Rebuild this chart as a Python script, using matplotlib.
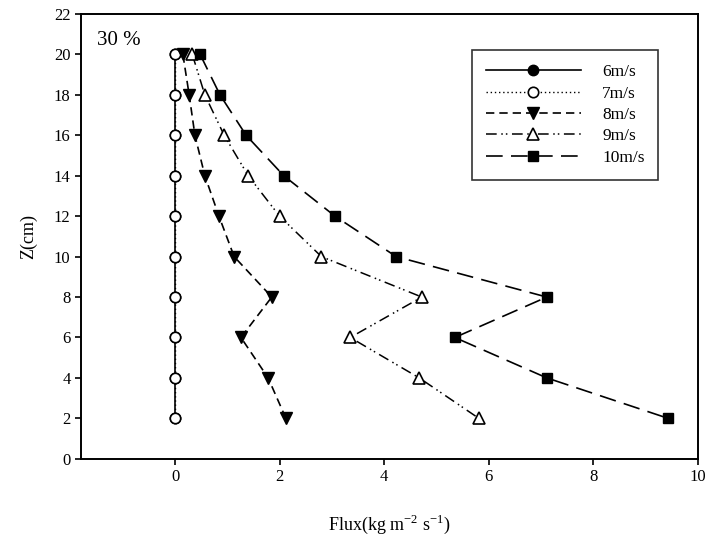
import matplotlib
matplotlib.use('Agg')
import matplotlib.pyplot as plt

plt.rcParams['font.family'] = ['Liberation Serif', 'DejaVu Serif']
plt.rcParams['mathtext.fontset'] = 'custom'
plt.rcParams['mathtext.rm'] = 'Liberation Serif'

z = [20, 18, 16, 14, 12, 10, 8, 6, 4, 2]
flux_6 = [0, 0, 0, 0, 0, 0, 0, 0, 0, 0]
flux_7 = [0, 0, 0, 0, 0, 0, 0, 0, 0, 0]
flux_8 = [0.15, 0.27, 0.38, 0.57, 0.84, 1.13, 1.85, 1.26, 1.78, 2.12]
flux_9 = [0.33, 0.57, 0.94, 1.40, 2.00, 2.80, 4.72, 3.35, 4.67, 5.81]
flux_10 = [0.48, 0.86, 1.36, 2.08, 3.06, 4.23, 7.11, 5.35, 7.11, 9.43]

fig = plt.figure(figsize=(7.1, 5.41), dpi=100)
ax = fig.add_axes([0.114, 0.152, 0.869, 0.822])

ax.plot(flux_6, z, color='black', linestyle='-', lw=1.2, marker='o', ms=7.5,
        mfc='black', mec='black', label='6m/s')
ax.plot(flux_7, z, color='black', linestyle=(0, (1, 2)), lw=1.0, marker='o', ms=7.5,
        mfc='white', mec='black', mew=1.2, label='7m/s')
ax.plot(flux_8, z, color='black', linestyle=(0, (5, 3)), lw=1.2, marker='v', ms=8,
        mfc='black', mec='black', label='8m/s')
ax.plot(flux_9, z, color='black', linestyle=(0, (7, 3, 1, 2, 1, 3)), lw=1.1, marker='^', ms=8,
        mfc='white', mec='black', mew=1.2, label='9m/s')
ax.plot(flux_10, z, color='black', linestyle=(0, (10, 5)), lw=1.2, marker='s', ms=7.5,
        mfc='black', mec='black', label='10m/s')

ax.set_xlim(-1.8, 10)
ax.set_ylim(0, 22)
ax.set_xticks([0, 2, 4, 6, 8, 10])
ax.set_yticks(range(0, 23, 2))
ax.tick_params(direction='out', labelsize=12, length=4, width=1.2)
for s in ax.spines.values():
    s.set_linewidth(1.4)

ax.set_xlabel('Flux(kg m$^{-2}$ s$^{-1}$)', fontsize=13, labelpad=20)
ax.set_ylabel('Z(cm)', fontsize=13, labelpad=12)

ax.text(-1.5, 20.7, '30 %', fontsize=15, ha='left', va='center')

leg = ax.legend(loc='upper right', bbox_to_anchor=(0.95, 0.938), fontsize=12.5,
                handlelength=5.5, frameon=True, fancybox=False,
                edgecolor='black', borderpad=0.8, labelspacing=0.3,
                handletextpad=1.2)
leg.get_frame().set_linewidth(1.2)

plt.savefig('out.png', dpi=100)
